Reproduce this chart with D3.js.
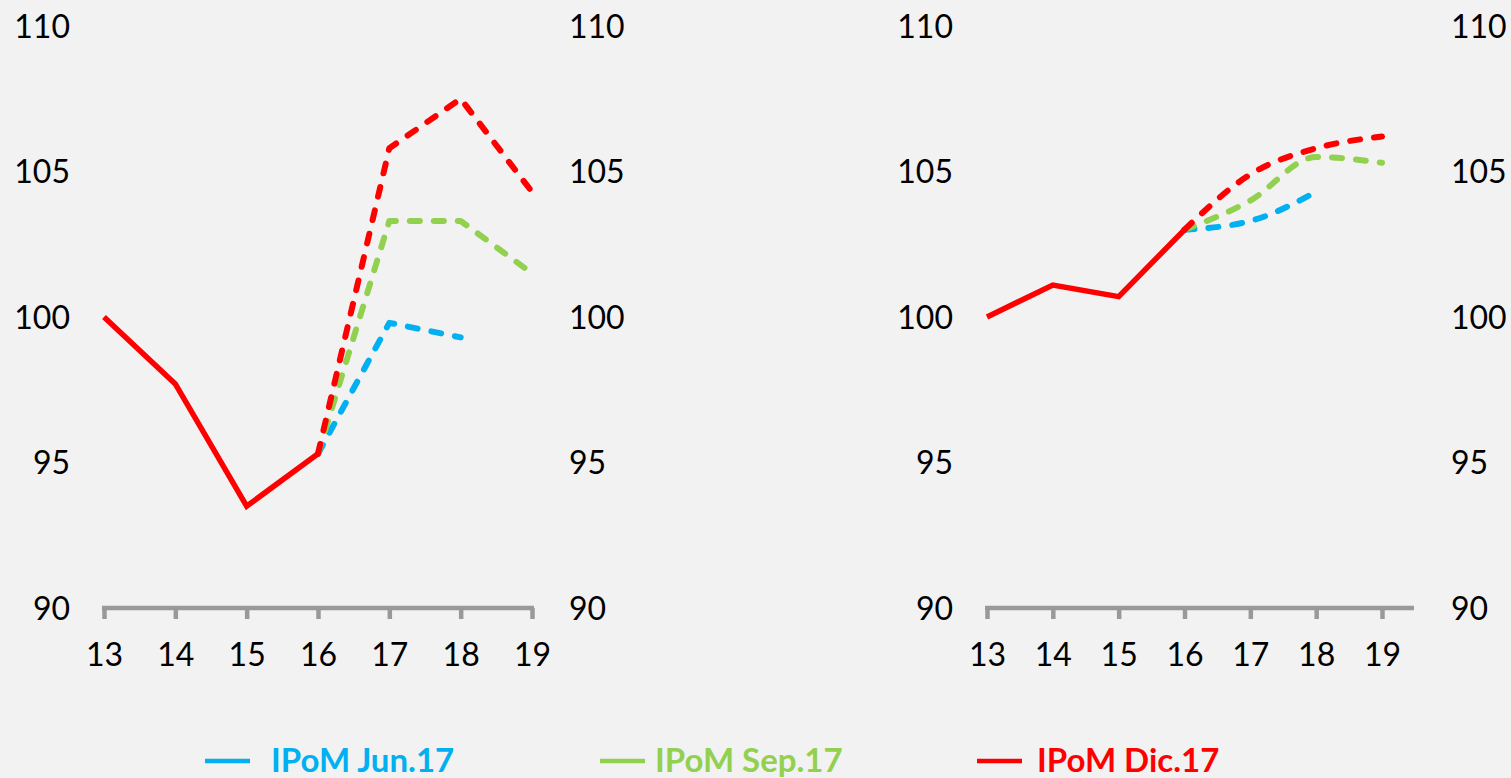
<!DOCTYPE html>
<html>
<head>
<meta charset="utf-8">
<script src="https://cdn.jsdelivr.net/npm/d3@7"></script>
<style>
	html, body { margin: 0; padding: 0; background: #f2f2f2; }
	svg { display: block; }
	text { font-family: Lato, 'Open Sans', sans-serif; }
</style>
</head>
<body>
<div id="chart"></div>
<script>

var years = [13, 14, 15, 16, 17, 18, 19];
var yTicks = [90, 95, 100, 105, 110];

// left panel
var leftActual = [100, 97.7, 93.5, 95.3, null, null, null];
var leftJun = [null, null, null, 95.3, 99.8, 99.3, null];
var leftSep = [null, null, null, 95.3, 103.3, 103.3, 101.5];
var leftDic = [null, null, null, 95.3, 105.8, 107.5, 104.3];

// right panel
var rightActual = [100, 101.1, 100.7, 103.0, null, null, null];
var rightJun = [null, null, null, 103.0, 103.3, 104.3, null];
var rightSep = [null, null, null, 103.0, 104.0, 105.5, 105.3];
var rightDic = [null, null, null, 103.0, 104.9, 105.8, 106.2];

var seriesNames = ['IPoM Jun.17', 'IPoM Sep.17', 'IPoM Dic.17'];
var seriesColors = ['#00b0f0', '#92d050', '#ff0000'];

var width = 1511,
	height = 778;

var svg = d3.select('#chart')
	.append('svg')
	.attr('width', width)
	.attr('height', height);

svg.append('rect')
	.attr('width', width)
	.attr('height', height)
	.attr('fill', '#f2f2f2');

var y = d3.scaleLinear()
	.domain([90, 110])
	.range([608, 26]);

var drawPanel = function(p) {

	var x = d3.scaleLinear()
		.domain([13, 19])
		.range([p.x0, p.x1]);

	var g = svg.append('g');

	// y labels on both sides
	g.selectAll('.ylab-left')
		.data(yTicks)
		.enter()
		.append('text')
		.attr('x', p.leftLabel)
		.attr('y', function(d) { return y(d); })
		.attr('dy', '0.36em')
		.attr('text-anchor', 'end')
		.style('font-size', '32px')
		.attr('fill', '#000')
		.text(function(d) { return d; });

	g.selectAll('.ylab-right')
		.data(yTicks)
		.enter()
		.append('text')
		.attr('x', p.rightLabel)
		.attr('y', function(d) { return y(d); })
		.attr('dy', '0.36em')
		.attr('text-anchor', 'start')
		.style('font-size', '32px')
		.attr('fill', '#000')
		.text(function(d) { return d; });

	// x axis
	var axis = g.append('g')
		.attr('transform', 'translate(0,' + y(90) + ')')
		.call(d3.axisBottom(x)
			.tickValues(years)
			.tickFormat(d3.format('d'))
			.tickSizeInner(11)
			.tickSizeOuter(0)
			.tickPadding(24));

	axis.select('.domain')
		.attr('d', 'M' + (p.x0 - 2) + ',0H' + p.axisEnd)
		.attr('stroke', '#999')
		.attr('stroke-width', 4.5);

	axis.selectAll('.tick line')
		.attr('stroke', '#999')
		.attr('stroke-width', 4.5);

	axis.selectAll('.tick text')
		.style('font-size', '32px')
		.attr('fill', '#000')
		.attr('font-family', 'Lato, sans-serif');

	var lineFor = function(curve) {
		return d3.line()
			.defined(function(d) { return d != null; })
			.x(function(d, i) { return x(years[i]); })
			.y(function(d) { return y(d); })
			.curve(curve);
	};

	var dashed = lineFor(p.curve);
	var solid = lineFor(d3.curveLinear);

	var fc = [p.jun, p.sep, p.dic];

	for (var i = 0; i < fc.length; i++) {
		g.append('path')
			.attr('d', dashed(fc[i]))
			.attr('fill', 'none')
			.attr('stroke', seriesColors[i])
			.attr('stroke-width', 6)
			.attr('stroke-dasharray', '10,14')
			.attr('stroke-linecap', 'round')
			.attr('stroke-linejoin', 'round');
	}

	g.append('path')
		.attr('d', solid(p.actual))
		.attr('fill', 'none')
		.attr('stroke', seriesColors[2])
		.attr('stroke-width', 5.5)
		.attr('stroke-linejoin', 'miter');
};

drawPanel({
	x0: 104, x1: 532, axisEnd: 534,
	leftLabel: 70, rightLabel: 569,
	curve: d3.curveLinear,
	actual: leftActual, jun: leftJun, sep: leftSep, dic: leftDic
});

drawPanel({
	x0: 987, x1: 1382, axisEnd: 1414,
	leftLabel: 953, rightLabel: 1451,
	curve: d3.curveMonotoneX,
	actual: rightActual, jun: rightJun, sep: rightSep, dic: rightDic
});

// legend
var legendSwatch = [205, 600, 977];
var legendText = [271, 655, 1037];

var legend = svg.append('g');

for (var i = 0; i < seriesNames.length; i++) {
	legend.append('line')
		.attr('x1', legendSwatch[i])
		.attr('x2', legendSwatch[i] + 45)
		.attr('y1', 761)
		.attr('y2', 761)
		.attr('stroke', seriesColors[i])
		.attr('stroke-width', 4.5);

	legend.append('text')
		.attr('x', legendText[i])
		.attr('y', 772)
		.style('font-size', '33px')
		.style('font-weight', 'bold')
		.attr('fill', seriesColors[i])
		.text(seriesNames[i]);
}

</script>
</body>
</html>
